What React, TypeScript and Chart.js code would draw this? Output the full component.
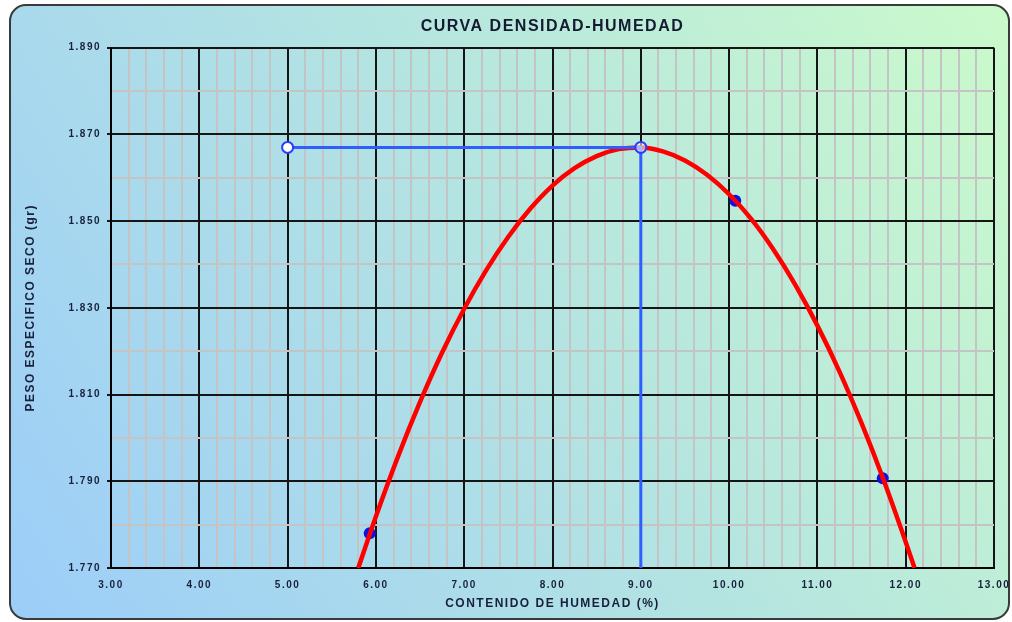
import React, { useEffect, useRef } from "react";
import { Chart, registerables } from "chart.js";

Chart.register(...registerables);

const TITLE = "CURVA DENSIDAD-HUMEDAD";
const X_TITLE = "CONTENIDO DE HUMEDAD (%)";
const Y_TITLE = "PESO ESPECIFICO SECO (gr)";

const X_MIN = 3;
const X_MAX = 13;
const X_STEP = 0.2;
const Y_MIN = 1.77;
const Y_MAX = 1.89;
const Y_STEP = 0.01;

// Ensayo (puntos medidos)
const moisture = [5.93, 10.07, 11.74];
const density = [1.778, 1.8547, 1.7907];

// Curva ajustada
const curveX = [5.8, 6.0, 6.25, 6.5, 6.75, 7.0, 7.25, 7.5, 7.75, 8.0, 8.25, 8.5, 8.75, 9.0, 9.25, 9.5, 9.75, 10.0, 10.25, 10.5, 10.75, 11.0, 11.25, 11.5, 11.75, 12.0, 12.1];
const curveY = [1.77, 1.7819, 1.7957, 1.8083, 1.8197, 1.8298, 1.8387, 1.8464, 1.8529, 1.8582, 1.8622, 1.865, 1.8666, 1.867, 1.8661, 1.864, 1.8607, 1.8562, 1.8505, 1.8435, 1.8353, 1.8259, 1.8153, 1.8034, 1.7903, 1.776, 1.77];

// Líneas guía (óptimo)
const guideX = [5.0, 9.0, 9.0];
const guideY = [1.867, 1.867, 1.77];

const FONT = "'Liberation Sans', Arial, sans-serif";
const TEXT = "#18203c";

const isMajorX = (v: number) => Math.abs(v - Math.round(v)) < 1e-6;
const isMajorY = (v: number) => Math.round(v * 100) % 2 === 1;

const bgPlugin = {
  id: "bgPanel",
  beforeLayout(chart: any) {
    chart.ctx.letterSpacing = "1.5px";
  },
  beforeDraw(chart: any) {
    const ctx = chart.ctx;
    ctx.save();
    ctx.fillStyle = "#ffffff";
    ctx.fillRect(0, 0, chart.width, chart.height);
    const g = ctx.createLinearGradient(10, 620, 1010, 5);
    g.addColorStop(0, "#9ccdf9");
    g.addColorStop(0.5, "#b3e3e2");
    g.addColorStop(1, "#cbfacb");
    ctx.beginPath();
    ctx.roundRect(10, 5, 999, 614, 16);
    ctx.fillStyle = g;
    ctx.fill();
    ctx.lineWidth = 2;
    ctx.strokeStyle = "#3a3a3a";
    ctx.stroke();
    ctx.restore();
    ctx.letterSpacing = "1.5px";
  },
};

export default function App() {
  const ref = useRef<HTMLCanvasElement | null>(null);

  useEffect(() => {
    if (!ref.current) return;
    const chart = new Chart(ref.current, {
      type: "scatter",
      data: {
        datasets: [
          {
            label: "Óptimo",
            data: guideX.map((x, i) => ({ x, y: guideY[i] })),
            showLine: true,
            borderColor: "#2f5dff",
            borderWidth: 3,
            pointRadius: [5.5, 5.5, 0],
            pointBackgroundColor: ["#ffffff", "rgba(255,255,255,0.55)", "#ffffff"],
            pointBorderColor: "#2a3cff",
            pointBorderWidth: 2,
            tension: 0,
          },
          {
            label: "Curva",
            data: curveX.map((x, i) => ({ x, y: curveY[i] })),
            showLine: true,
            borderColor: "#ff0000",
            borderWidth: 4.5,
            pointRadius: 0,
            cubicInterpolationMode: "monotone",
          },
          {
            label: "Ensayo",
            data: moisture.map((x, i) => ({ x, y: density[i] })),
            showLine: false,
            pointRadius: 6,
            pointBackgroundColor: "#0b14e6",
            pointBorderColor: "#0b14e6",
            pointBorderWidth: 0,
          },
        ],
      },
      options: {
        responsive: false,
        animation: false,
        layout: { padding: { top: 0, left: 10, right: 18, bottom: 0 } },
        plugins: {
          legend: { display: false },
          tooltip: { enabled: false },
          title: {
            display: true,
            fullSize: false,
            text: TITLE,
            color: "#141a30",
            font: { family: FONT, size: 16, weight: "bold" },
            padding: { top: 17, bottom: 11.5 },
          },
        },
        scales: {
          x: {
            type: "linear",
            min: X_MIN,
            max: X_MAX,
            afterFit: (s: any) => {
              s.height = 54;
              s.paddingLeft = 0;
              s.paddingRight = 0;
            },
            ticks: {
              stepSize: X_STEP,
              autoSkip: false,
              maxRotation: 0,
              minRotation: 0,
              padding: 11,
              color: TEXT,
              font: { family: FONT, size: 10, weight: "bold" },
              callback: (v: any) => (isMajorX(Number(v)) ? Number(v).toFixed(2) : ""),
            },
            grid: {
              color: (c: any) => (isMajorX(c.tick?.value ?? 0) ? "#151515" : "#c4c4c4"),
              lineWidth: 2,
              drawTicks: false,
            },
            border: { display: true, color: "#000000", width: 2 },
            title: {
              display: true,
              text: X_TITLE,
              color: TEXT,
              font: { family: FONT, size: 12, weight: "bold" },
              padding: { top: 0, bottom: 11 },
            },
          },
          y: {
            type: "linear",
            min: Y_MIN,
            max: Y_MAX,
            afterFit: (s: any) => {
              s.width = 101;
            },
            ticks: {
              stepSize: Y_STEP,
              autoSkip: false,
              padding: 6,
              color: TEXT,
              font: { family: FONT, size: 10, weight: "bold" },
              callback: (v: any) => (isMajorY(Number(v)) ? Number(v).toFixed(3) : ""),
            },
            grid: {
              color: (c: any) => (isMajorY(c.tick?.value ?? 0) ? "#151515" : "#c4c4c4"),
              lineWidth: 2,
              drawTicks: true,
              tickLength: 4,
              tickColor: (c: any) => (isMajorY(c.tick?.value ?? 0) ? "#151515" : "rgba(0,0,0,0)"),
            },
            border: { display: true, color: "#000000", width: 2 },
            title: {
              display: true,
              text: Y_TITLE,
              color: TEXT,
              font: { family: FONT, size: 12, weight: "bold" },
              padding: { top: 13, bottom: 0 },
            },
          },
        },
      } as any,
      plugins: [bgPlugin],
    });
    return () => chart.destroy();
  }, []);

  return (
    <div style={{ position: "fixed", left: 0, top: 0, width: 1012, height: 622 }}>
      <canvas ref={ref} width={1012} height={622} style={{ display: "block" }} />
    </div>
  );
}
